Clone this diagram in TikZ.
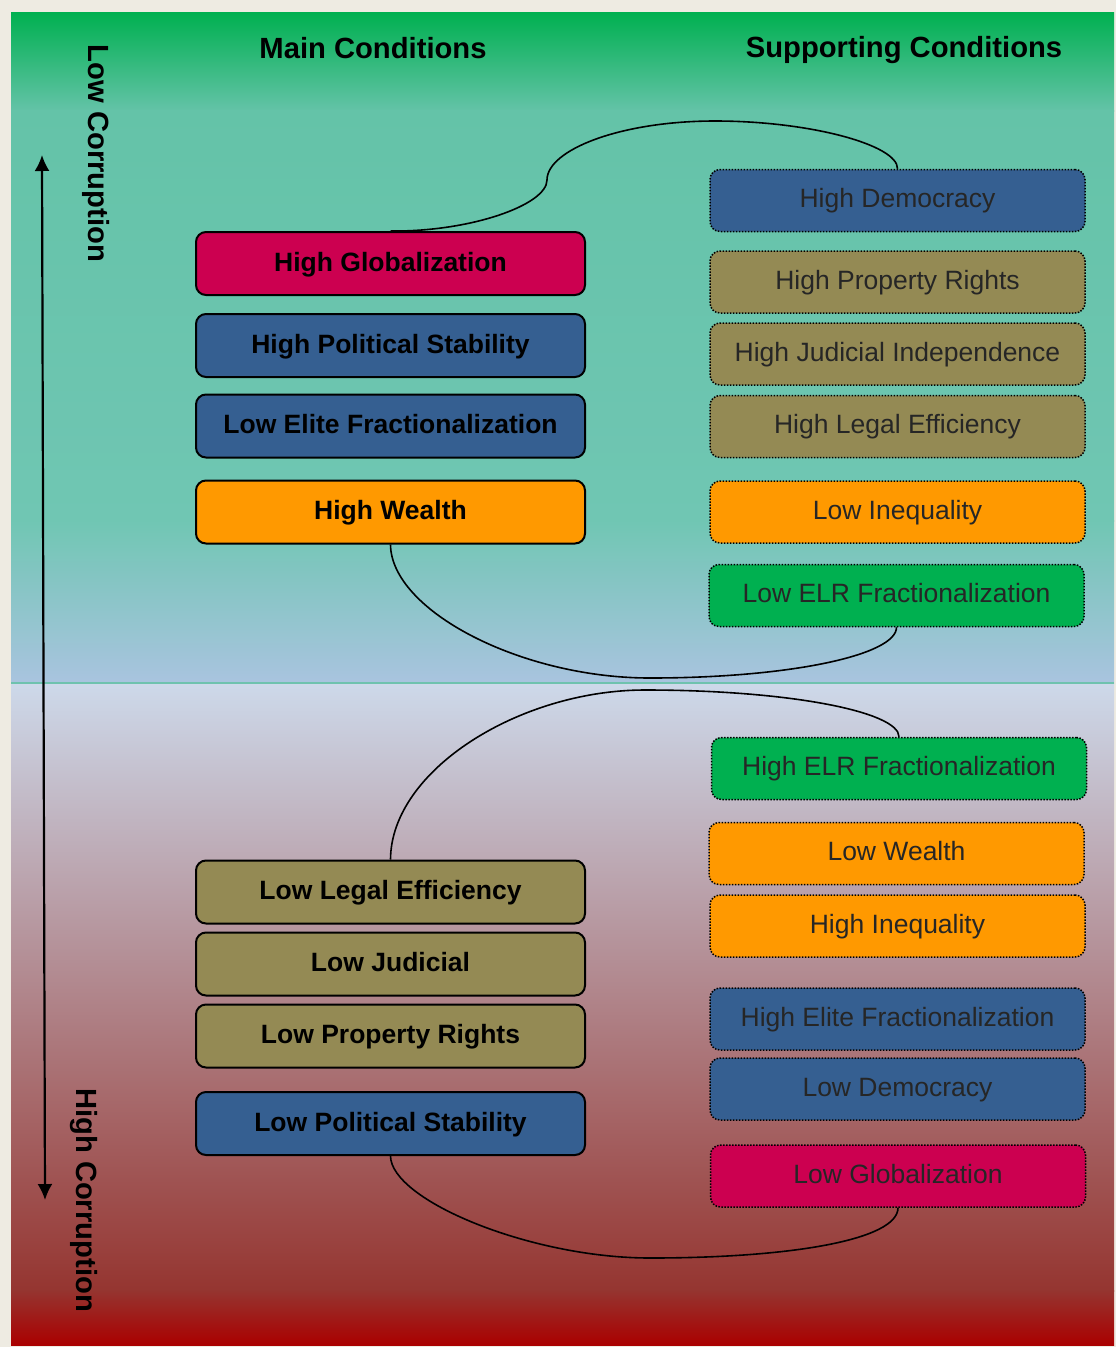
\documentclass[tikz,border=0pt]{standalone}
\usepackage{fontspec}
\setmainfont{Liberation Sans}
\usetikzlibrary{arrows.meta}
\definecolor{bgbeige}{HTML}{EEEBE2}
\definecolor{gA}{HTML}{00B050}
\definecolor{gB}{HTML}{64C3A8}
\definecolor{gC}{HTML}{70C6B3}
\definecolor{gD}{HTML}{A9C4DF}
\definecolor{rA}{HTML}{CDD9EA}
\definecolor{rB}{HTML}{953530}
\definecolor{rC}{HTML}{AA0000}
\definecolor{midcol}{HTML}{6FC2AE}
\definecolor{boxcrimson}{HTML}{CC0050}
\definecolor{boxblue}{HTML}{355F91}
\definecolor{boxolive}{HTML}{948A54}
\definecolor{boxorange}{HTML}{FF9900}
\definecolor{boxgreen}{HTML}{00B050}
\definecolor{txtgray}{HTML}{262626}
\begin{document}
\begin{tikzpicture}[x=1pt,y=-1pt,
  mainbox/.style={draw=black, line width=2pt, rounded corners=10pt,
    minimum width=389pt, minimum height=63pt, inner sep=0pt,
    font=\fontsize{26.5}{30}\selectfont\bfseries, text height=19pt, text depth=3.5pt},
  supbox/.style={draw=black, line width=1.5pt, dash pattern=on 1.5pt off 1.5pt,
    rounded corners=10pt, minimum width=375pt, minimum height=62pt, inner sep=0pt,
    text=txtgray, font=\fontsize{26.5}{30}\selectfont, text height=19pt, text depth=5pt},
  titlelab/.style={font=\fontsize{29.2}{33}\selectfont\bfseries, anchor=base, inner sep=0pt},
  sidelab/.style={font=\fontsize{29.2}{33}\selectfont\bfseries, anchor=base, rotate=-90, inner sep=0pt},
  link/.style={draw=black, line width=1.6pt},
  axisarrow/.style={line width=2.2pt, {Latex[length=16pt,width=15pt]}-{Latex[length=16pt,width=15pt]}}
]
\useasboundingbox (0,0) rectangle (1116,1347);
% background
\fill[bgbeige] (0,0) rectangle (1116,1347);
\shade[top color=gA, bottom color=gB] (11,12) rectangle (1114,111);
\shade[top color=gB, bottom color=gC] (11,110) rectangle (1114,521);
\shade[top color=gC, bottom color=gD] (11,520) rectangle (1114,683);
\shade[top color=rA, bottom color=rB] (11,683) rectangle (1114,1291);
\shade[top color=rB, bottom color=rC] (11,1290) rectangle (1114,1345);
\draw[midcol, line width=2.5pt] (11,683) -- (1114,683);

% titles
\node[titlelab] (tmain) at (373,58.5) {Main Conditions};
\node[titlelab] (tsup) at (904,57.5) {Supporting Conditions};

% side labels and arrow
\node[sidelab] (lowc) at (88,153.5) {Low Corruption};
\node[sidelab] (highc) at (76,1200) {High Corruption};
\coordinate (arrtop) at (42,155);
\coordinate (arrbot) at (45,1200);
\draw[axisarrow] (arrtop) -- (arrbot);

% main conditions
\node[mainbox, fill=boxcrimson] (hg)  at (390.5,263.5) {High Globalization};
\node[mainbox, fill=boxblue]    (hps) at (390.5,345.5) {High Political Stability};
\node[mainbox, fill=boxblue]    (lef) at (390.5,426)   {Low Elite Fractionalization};
\node[mainbox, fill=boxorange]  (hw)  at (390.5,512)   {High Wealth};
\node[mainbox, fill=boxolive]   (lle) at (390.5,892)   {Low Legal Efficiency};
\node[mainbox, fill=boxolive]   (lj)  at (390.5,964)   {Low Judicial};
\node[mainbox, fill=boxolive]   (lpr) at (390.5,1036)  {Low Property Rights};
\node[mainbox, fill=boxblue]    (lps) at (390.5,1123.5){Low Political Stability};

% supporting conditions
\node[supbox, fill=boxblue]     (hd)   at (897.5,200.5) {High Democracy};
\node[supbox, fill=boxolive]    (hpr)  at (897.5,282)   {High Property Rights};
\node[supbox, fill=boxolive]    (hji)  at (897.5,354)   {High Judicial Independence};
\node[supbox, fill=boxolive]    (hle)  at (897.5,426.5) {High Legal Efficiency};
\node[supbox, fill=boxorange]   (li)   at (897.5,512)   {Low Inequality};
\node[supbox, fill=boxgreen]    (lelr) at (896.5,595.5) {Low ELR Fractionalization};
\node[supbox, fill=boxgreen]    (helr) at (899,768.5)   {High ELR Fractionalization};
\node[supbox, fill=boxorange]   (lw)   at (896.5,853.5) {Low Wealth};
\node[supbox, fill=boxorange]   (hi)   at (897.5,926)   {High Inequality};
\node[supbox, fill=boxblue]     (hef)  at (897.5,1019)  {High Elite Fractionalization};
\node[supbox, fill=boxblue]     (ld)   at (897.5,1089)  {Low Democracy};
\node[supbox, fill=boxcrimson]  (lg)   at (898,1176)    {Low Globalization};

% links
\draw[link] (hg.north) .. controls (470,232) and (547,205) .. (547,180)
  .. controls (547,150) and (620,121) .. (715,121)
  .. controls (810,121) and (898,145) .. (hd.north);
\draw[link] (hw.south) .. controls (391,610) and (520,678) .. (650,678)
  .. controls (790,678) and (896.5,655) .. (lelr.south);
\draw[link] (lle.north) .. controls (391,770) and (520,690) .. (645,690)
  .. controls (790,690) and (899,712) .. (helr.north);
\draw[link] (lps.south) .. controls (391,1200) and (530,1258) .. (650,1258)
  .. controls (790,1258) and (898,1240) .. (lg.south);
\end{tikzpicture}
\end{document}
